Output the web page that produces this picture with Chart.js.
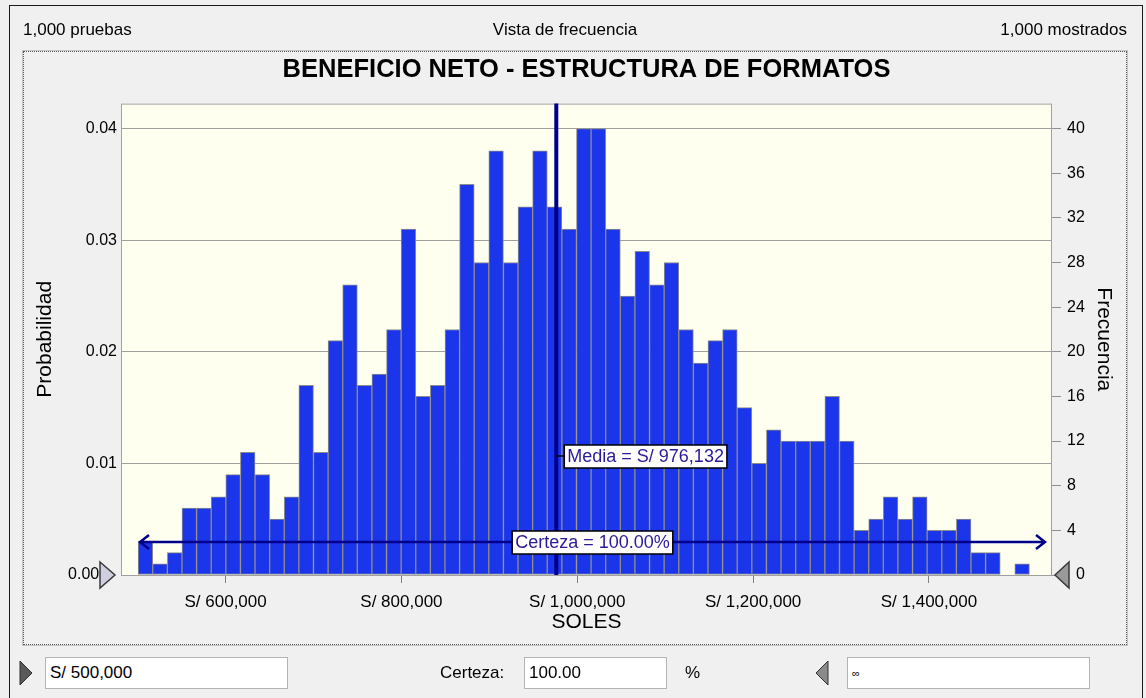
<!DOCTYPE html>
<html>
<head>
<meta charset="utf-8">
<script src="https://cdn.jsdelivr.net/npm/chart.js@4.4.1/dist/chart.umd.min.js"></script>
<style>
body { margin: 0; background: #f0f0f0; font-family: "Liberation Sans", Arial, sans-serif; }
#wrap { position: relative; width: 1146px; height: 698px; overflow: hidden; background: #f0f0f0; }
#frame { position: absolute; left: 9px; top: 5px; width: 1132px; height: 720px; border: 1px solid #1a1a1a; }
#inner { position: absolute; left: 23px; top: 51px; width: 1102px; height: 592px; border: 1px dotted #555; outline: 1px solid #c4c4c4; }
canvas { position: absolute; left: 0; top: 0; }
.lbl { position: absolute; font-size: 17px; color: #000; line-height: 20px; white-space: nowrap; }
.box { position: absolute; background: #fff; border: 1px solid #b4b4b4; height: 32px; box-sizing: border-box; font-size: 17px; line-height: 30px; padding-left: 4px; color: #000; }
svg { position: absolute; }
</style>
</head>
<body>
<div id="wrap">
  <div id="frame"></div>
  <div id="inner"></div>
  <canvas id="chart" width="1146" height="698"></canvas>
  <div class="lbl" style="left:23px; top:20px;">1,000 pruebas</div>
  <div class="lbl" style="left:465px; width:200px; top:20px; text-align:center;">Vista de frecuencia</div>
  <div class="lbl" style="right:19px; top:20px;">1,000 mostrados</div>

  <svg style="left:18px; top:659px;" width="16" height="28"><polygon points="2,2 14,14 2,26" fill="#5a5a5a" stroke="#303030" stroke-width="1"/></svg>
  <div class="box" style="left:45px; top:657px; width:243px;">S/ 500,000</div>
  <div class="lbl" style="left:440px; top:663px;">Certeza:</div>
  <div class="box" style="left:524px; top:657px; width:143px;">100.00</div>
  <div class="lbl" style="left:685px; top:663px;">%</div>
  <svg style="left:813px; top:659px;" width="18" height="28"><polygon points="15,2 3,14 15,26" fill="#8a8a8a" stroke="#303030" stroke-width="1"/></svg>
  <div class="box" style="left:847px; top:657px; width:243px; font-size:11px;">∞</div>
</div>

<script>
// histograma: 1000 pruebas, frecuencia por intervalo
const trials = 1000;
const binStart = 500500;
const binWidth = 16620;
const counts = [3, 1, 2, 6, 6, 7, 9, 11, 9, 5, 7, 17, 11, 21, 26,
    17, 18, 22, 31, 16, 17, 22, 35, 28, 38, 28, 33, 38, 33, 31,
    40, 40, 31, 25, 29, 26, 28, 22, 19, 21, 22, 15, 10, 13, 12, 12,
    12, 16, 12, 4, 5, 7, 5, 7, 4, 4, 5, 2, 2, 0, 1];
const xTicks = [600000, 800000, 1000000, 1200000, 1400000];
const countTicks = [0, 4, 8, 12, 16, 20, 24, 28, 32, 36, 40];
const probTicks = [0, 0.01, 0.02, 0.03, 0.04];
const xMin = 481000;
const xMax = 1540000;
const countMax = 42.24;
const media = 976132;
const certeza = "100.00%";

const FONT = "'Liberation Sans', Arial, sans-serif";

var points = counts.map(function (c, i) {
    return { x: binStart + binWidth * (i + 0.5), y: c };
});

var plotBg = {
    id: 'plotBg',
    beforeDraw: function (chart) {
        var a = chart.chartArea;
        chart.ctx.save();
        chart.ctx.fillStyle = '#fffff0';
        chart.ctx.fillRect(a.left, a.top, a.right - a.left, a.bottom - a.top);
        chart.ctx.restore();
    }
};

var overlay = {
    id: 'overlay',
    afterDraw: function (chart) {
        var ctx = chart.ctx;
        var a = chart.chartArea;
        var xs = chart.scales.x;
        ctx.save();

        // borde del área
        ctx.strokeStyle = '#a0a0a0';
        ctx.lineWidth = 1;
        ctx.strokeRect(a.left + 0.5, a.top + 0.5, a.right - a.left - 1, a.bottom - a.top);

        // línea de media
        var mx = xs.getPixelForValue(media);
        ctx.strokeStyle = '#00008e';
        ctx.lineWidth = 4;
        ctx.beginPath();
        ctx.moveTo(mx, a.top);
        ctx.lineTo(mx, a.bottom);
        ctx.stroke();

        // etiqueta media
        ctx.font = '18px ' + FONT;
        var mt = 'Media = S/ ' + media.toLocaleString('en-US');
        var mw = ctx.measureText(mt).width + 6;
        var my = 456;
        ctx.strokeStyle = '#000';
        ctx.lineWidth = 1.5;
        ctx.beginPath();
        ctx.moveTo(mx, my);
        ctx.lineTo(mx + 8, my);
        ctx.stroke();
        ctx.fillStyle = '#fff';
        ctx.fillRect(mx + 8, my - 11, mw, 23);
        ctx.strokeRect(mx + 8, my - 11, mw, 23);
        ctx.fillStyle = '#2a1a98';
        ctx.textBaseline = 'middle';
        ctx.textAlign = 'left';
        ctx.fillText(mt, mx + 11, my + 1);

        // flecha de certeza
        var ay = a.bottom - 33;
        var x1 = a.left + 19, x2 = a.right - 7;
        ctx.strokeStyle = '#00008b';
        ctx.lineWidth = 2.5;
        ctx.beginPath();
        ctx.moveTo(x1, ay);
        ctx.lineTo(x2, ay);
        ctx.moveTo(x1 + 9, ay - 7);
        ctx.lineTo(x1, ay);
        ctx.lineTo(x1 + 9, ay + 7);
        ctx.moveTo(x2 - 9, ay - 7);
        ctx.lineTo(x2, ay);
        ctx.lineTo(x2 - 9, ay + 7);
        ctx.stroke();

        var ct = 'Certeza = ' + certeza;
        var cw = ctx.measureText(ct).width + 6;
        var cx = (x1 + x2) / 2 - cw / 2;
        ctx.fillStyle = '#fff';
        ctx.fillRect(cx, ay - 11, cw, 23);
        ctx.strokeStyle = '#000';
        ctx.lineWidth = 1.5;
        ctx.strokeRect(cx, ay - 11, cw, 23);
        ctx.fillStyle = '#2a1a98';
        ctx.fillText(ct, cx + 3, ay + 1);

        // marcadores en los extremos del eje
        ctx.lineWidth = 1.5;
        ctx.strokeStyle = '#3a3a3a';
        ctx.fillStyle = '#cfcfe0';
        ctx.beginPath();
        ctx.moveTo(a.left - 21, a.bottom - 13);
        ctx.lineTo(a.left - 6, a.bottom);
        ctx.lineTo(a.left - 21, a.bottom + 13);
        ctx.closePath();
        ctx.fill();
        ctx.stroke();
        ctx.fillStyle = '#9a9a9a';
        ctx.beginPath();
        ctx.moveTo(a.right + 17, a.bottom - 13);
        ctx.lineTo(a.right + 3, a.bottom);
        ctx.lineTo(a.right + 17, a.bottom + 13);
        ctx.closePath();
        ctx.fill();
        ctx.stroke();
        ctx.restore();
    }
};

new Chart(document.getElementById('chart'), {
    type: 'bar',
    data: {
        datasets: [{
            data: points,
            yAxisID: 'yCount',
            backgroundColor: '#1a35ea',
            borderColor: '#8c8c8c',
            borderWidth: 1,
            borderSkipped: false,
            barPercentage: 1,
            categoryPercentage: 1
        }]
    },
    options: {
        responsive: false,
        animation: false,
        layout: { padding: 0 },
        plugins: {
            legend: { display: false },
            tooltip: { enabled: false },
            title: {
                display: true,
                text: 'BENEFICIO NETO - ESTRUCTURA DE FORMATOS',
                fullSize: false,
                color: '#000',
                font: { family: FONT, size: 25.5, weight: 'bold' },
                padding: { top: 55, bottom: 18 }
            }
        },
        scales: {
            x: {
                type: 'linear',
                offset: false,
                min: xMin,
                max: xMax,
                afterBuildTicks: function (s) { s.ticks = xTicks.map(function (v) { return { value: v }; }); },
                afterFit: function (s) { s.height = 123; },
                grid: { offset: false, drawOnChartArea: false, drawTicks: true, tickLength: 8, color: '#808080' },
                border: { display: false },
                ticks: {
                    callback: function (v) { return 'S/ ' + v.toLocaleString('en-US'); },
                    color: '#000', font: { family: FONT, size: 17 }, padding: 9, maxRotation: 0, autoSkip: false
                },
                title: { display: true, text: 'SOLES', color: '#000', font: { family: FONT, size: 21 }, padding: { bottom: 63 } }
            },
            yProb: {
                position: 'left',
                min: 0,
                max: countMax / trials,
                afterBuildTicks: function (s) { s.ticks = probTicks.map(function (v) { return { value: v }; }); },
                afterFit: function (s) { s.width = 121; },
                grid: { color: '#a0a0a0', drawTicks: false },
                border: { display: false },
                ticks: {
                    // the 0 label sits left of the marker triangle
                    callback: function (v) { return v === 0 ? '0.00    ' : v.toFixed(2); },
                    color: '#000', font: { family: FONT, size: 16 }, padding: 4
                },
                title: { display: true, text: 'Probabilidad', color: '#000', font: { family: FONT, size: 21 }, padding: { top: 33 } }
            },
            yCount: {
                position: 'right',
                min: 0,
                max: countMax,
                afterBuildTicks: function (s) { s.ticks = countTicks.map(function (v) { return { value: v }; }); },
                afterFit: function (s) { s.width = 94; },
                grid: { drawOnChartArea: false, drawTicks: true, tickLength: 9, color: '#909090' },
                border: { display: false },
                ticks: {
                    callback: function (v) { return v === 0 ? '  0' : String(v); },
                    color: '#000', font: { family: FONT, size: 16 }, padding: 6
                },
                title: { display: true, text: 'Frecuencia', color: '#000', font: { family: FONT, size: 21 }, padding: { top: 30 } }
            }
        }
    },
    plugins: [plotBg, overlay]
});
</script>
</body>
</html>
